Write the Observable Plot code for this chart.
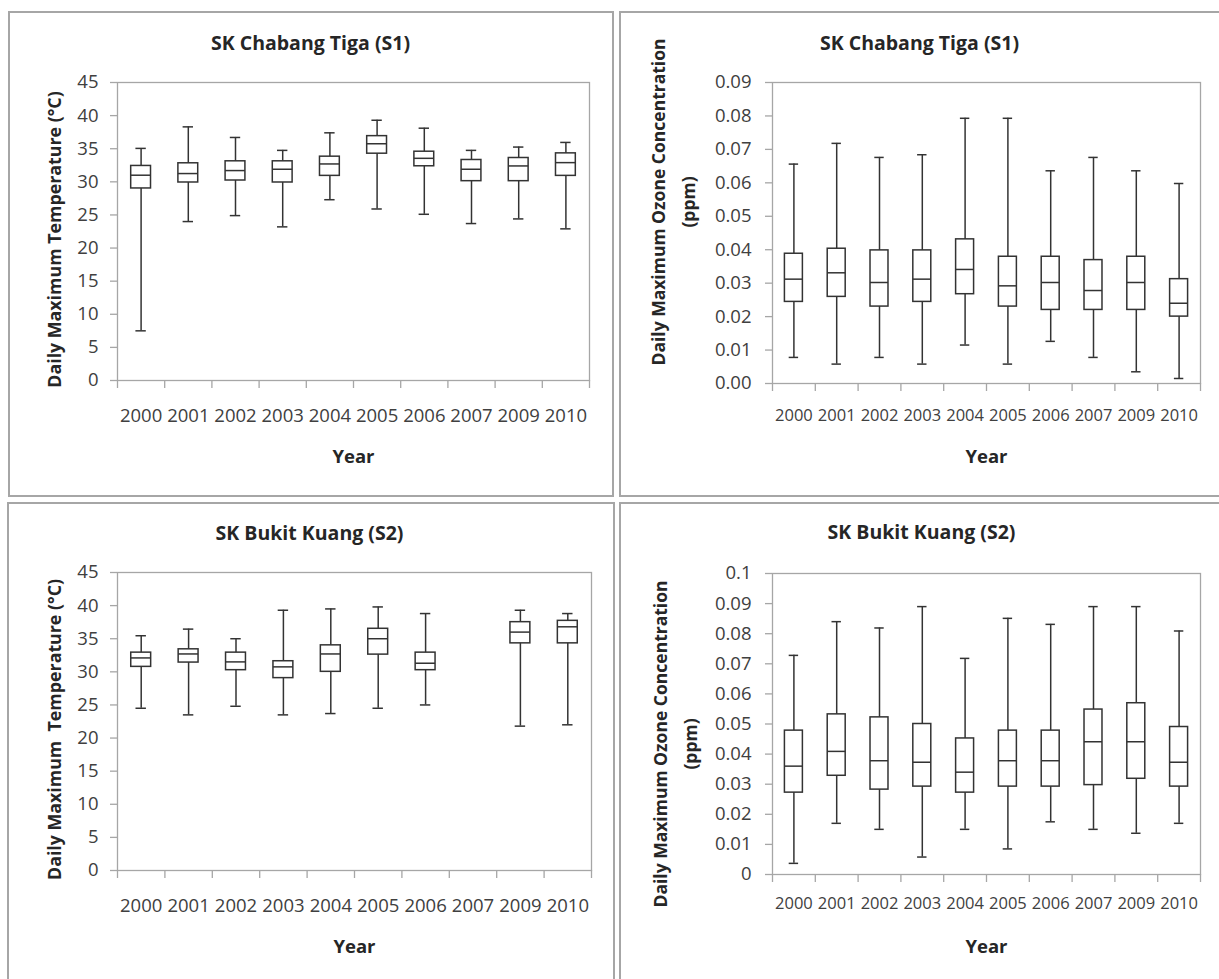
<!DOCTYPE html>
<html>
<head>
<meta charset="utf-8">
<script src="https://cdn.jsdelivr.net/npm/d3@7"></script>
<script src="https://cdn.jsdelivr.net/npm/@observablehq/plot@0.6"></script>
<style>
  html, body { margin: 0; padding: 0; background: #fff; }
  body { width: 1219px; height: 979px; overflow: hidden; position: relative; font-family: "Open Sans", sans-serif; }
  .panel { position: absolute; border: 2px solid #a6a6a6; box-sizing: border-box; }
</style>
</head>
<body>
<script>
// ---------- data ----------
const years = ["2000", "2001", "2002", "2003", "2004", "2005", "2006", "2007", "2009", "2010"];

// SK Chabang Tiga (S1) – daily maximum temperature (°C)
const tempS1Min = [7.5, 24.0, 24.9, 23.2, 27.3, 25.9, 25.1, 23.7, 24.4, 22.9];
const tempS1Q1  = [29.0, 29.9, 30.2, 29.9, 30.9, 34.25, 32.35, 30.1, 30.1, 30.9];
const tempS1Med = [31.0, 31.25, 31.7, 31.9, 32.7, 35.75, 33.55, 31.9, 32.4, 32.9];
const tempS1Q3  = [32.4, 32.8, 33.1, 33.1, 33.8, 36.9, 34.55, 33.3, 33.6, 34.3];
const tempS1Max = [35.05, 38.3, 36.7, 34.75, 37.4, 39.3, 38.1, 34.75, 35.25, 35.95];

// SK Chabang Tiga (S1) – daily maximum ozone (ppm)
const ozoneS1Min = [0.0078, 0.0058, 0.0078, 0.0058, 0.0115, 0.0058, 0.0126, 0.0078, 0.0035, 0.0015];
const ozoneS1Q1  = [0.0244, 0.0259, 0.0230, 0.0244, 0.0267, 0.0230, 0.0220, 0.0220, 0.0220, 0.0200];
const ozoneS1Med = [0.0312, 0.0331, 0.0302, 0.0312, 0.0341, 0.0292, 0.0302, 0.0278, 0.0302, 0.0240];
const ozoneS1Q3  = [0.0388, 0.0403, 0.0398, 0.0398, 0.0431, 0.0379, 0.0379, 0.0369, 0.0379, 0.0312];
const ozoneS1Max = [0.0656, 0.0718, 0.0676, 0.0684, 0.0793, 0.0793, 0.0636, 0.0676, 0.0636, 0.0598];

// SK Bukit Kuang (S2) – daily maximum temperature (°C); no data for 2007
const tempS2Min = [24.5, 23.5, 24.8, 23.5, 23.7, 24.5, 25.0, null, 21.8, 22.0];
const tempS2Q1  = [30.75, 31.4, 30.25, 29.05, 30.0, 32.6, 30.25, null, 34.3, 34.3];
const tempS2Med = [32.1, 32.7, 31.5, 30.75, 32.7, 35.0, 31.3, null, 36.0, 36.8];
const tempS2Q3  = [32.9, 33.4, 32.9, 31.6, 34.0, 36.5, 32.9, null, 37.5, 37.7];
const tempS2Max = [35.45, 36.45, 35.0, 39.3, 39.5, 39.8, 38.8, null, 39.3, 38.8];

// SK Bukit Kuang (S2) – daily maximum ozone (ppm)
const ozoneS2Min = [0.0037, 0.0170, 0.0150, 0.0058, 0.0150, 0.0085, 0.0175, 0.0150, 0.0137, 0.0170];
const ozoneS2Q1  = [0.0272, 0.0328, 0.0282, 0.0292, 0.0272, 0.0292, 0.0292, 0.0297, 0.0318, 0.0292];
const ozoneS2Med = [0.0360, 0.0409, 0.0378, 0.0373, 0.0340, 0.0378, 0.0378, 0.0441, 0.0441, 0.0373];
const ozoneS2Q3  = [0.0478, 0.0532, 0.0522, 0.0500, 0.0452, 0.0478, 0.0478, 0.0548, 0.0569, 0.0490];
const ozoneS2Max = [0.0728, 0.0840, 0.0819, 0.0890, 0.0718, 0.0851, 0.0831, 0.0890, 0.0890, 0.0809];

const tempTicks = [0, 5, 10, 15, 20, 25, 30, 35, 40, 45];
const ozoneTicksS1 = [0, 0.01, 0.02, 0.03, 0.04, 0.05, 0.06, 0.07, 0.08, 0.09];
const ozoneTicksS2 = [0, 0.01, 0.02, 0.03, 0.04, 0.05, 0.06, 0.07, 0.08, 0.09, 0.1];

// ---------- drawing ----------
const INK = "#333333";
const AXIS = "#a6a6a6";
const LABEL = "#404040";
const BORDER = 2;
const FONT = "'Open Sans', Lato, sans-serif";

function panel(cfg) {
  const div = document.createElement("div");
  div.className = "panel";
  Object.assign(div.style, {
    left: cfg.box.left + "px", top: cfg.box.top + "px",
    width: cfg.box.width + "px", height: cfg.box.height + "px"
  });
  document.body.appendChild(div);

  const sx = cfg.box.left + BORDER, sy = cfg.box.top + BORDER;
  const W = cfg.box.width - 2 * BORDER, H = cfg.box.height - 2 * BORDER;
  const f = cfg.frame;

  const n = years.length;
  const rows = years.map((year, i) => ({
    i, year, min: cfg.min[i], q1: cfg.q1[i], med: cfg.med[i], q3: cfg.q3[i], max: cfg.max[i]
  })).filter(d => d.med != null);

  const hb = 0.21, hc = 0.11;
  const c = d => d.i + 0.5;

  const svg = Plot.plot({
    width: W, height: H,
    marginLeft: f.x1 - sx, marginRight: sx + W - f.x2,
    marginTop: f.y1 - sy, marginBottom: sy + H - f.y2,
    style: { fontFamily: FONT, background: "transparent" },
    x: { domain: [0, n], axis: null },
    y: { domain: cfg.yDomain, axis: null },
    marks: [
      Plot.frame({ stroke: AXIS, strokeWidth: 1.3 }),
      Plot.axisY({ ticks: cfg.yTicks, tickFormat: cfg.fmt, tickSize: 7, tickPadding: cfg.yPad,
        stroke: AXIS, strokeWidth: 1.3, fill: LABEL, fontSize: 18.5, label: null }),
      Plot.axisX({ ticks: d3.range(n + 1), tickFormat: () => "", tickSize: 8,
        stroke: AXIS, strokeWidth: 1.3, label: null }),
      Plot.axisX({ ticks: d3.range(n).map(i => i + 0.5), tickFormat: t => years[Math.floor(t)],
        tickSize: 0, tickPadding: cfg.xPad, fill: LABEL, fontSize: cfg.xFont, label: null }),
      Plot.ruleX(rows, { x: c, y1: "min", y2: "max", stroke: INK, strokeWidth: 1.5 }),
      Plot.ruleY(rows, { y: "min", x1: d => c(d) - hc, x2: d => c(d) + hc, stroke: INK, strokeWidth: 1.5 }),
      Plot.ruleY(rows, { y: "max", x1: d => c(d) - hc, x2: d => c(d) + hc, stroke: INK, strokeWidth: 1.5 }),
      Plot.rect(rows, { x1: d => c(d) - hb, x2: d => c(d) + hb, y1: "q1", y2: "q3",
        fill: "white", stroke: INK, strokeWidth: 1.5 }),
      Plot.ruleY(rows, { y: "med", x1: d => c(d) - hb, x2: d => c(d) + hb, stroke: INK, strokeWidth: 1.5 }),
      Plot.text([cfg.title], { text: d => d, frameAnchor: "top", lineAnchor: "middle", textAnchor: "middle",
        dx: cfg.titleDx, dy: cfg.titleDy, fontSize: 19.5, fontWeight: "bold", fill: "#262626" }),
      Plot.text([cfg.yLabel], { text: d => d, frameAnchor: "left", lineAnchor: "middle", textAnchor: "middle",
        rotate: -90, dx: cfg.yLabDx, dy: cfg.yLabDy, lineHeight: 1.7,
        fontSize: cfg.yLabFont, fontWeight: "bold", fill: "#262626" }),
      Plot.text(["Year"], { text: d => d, frameAnchor: "bottom", lineAnchor: "middle", textAnchor: "middle",
        dy: cfg.xLabDy, fontSize: 18.5, fontWeight: "bold", fill: "#262626" })
    ]
  });
  Object.assign(svg.style, { position: "absolute", left: sx + "px", top: sy + "px", maxWidth: "none" });
  document.body.appendChild(svg);
}

const fmt2 = d3.format(".2f");
const fmtG = d => String(+d.toFixed(2));

panel({
  box: { left: 8, top: 11, width: 606, height: 486 },
  frame: { x1: 117, x2: 589, y1: 82, y2: 380 },
  yDomain: [0, 45], yTicks: tempTicks, fmt: d => String(d), yPad: 12, xPad: 28, xFont: 18.5,
  min: tempS1Min, q1: tempS1Q1, med: tempS1Med, q3: tempS1Q3, max: tempS1Max,
  title: "SK Chabang Tiga (S1)", titleDx: -43, titleDy: -39,
  yLabel: "Daily Maximum Temperature (°C)", yLabDx: -66, yLabDy: 8, yLabFont: 17.8,
  xLabDy: 77
});

panel({
  box: { left: 619, top: 11, width: 603, height: 486 },
  frame: { x1: 772, x2: 1200, y1: 82, y2: 383 },
  yDomain: [0, 0.09], yTicks: ozoneTicksS1, fmt: fmt2, yPad: 14, xPad: 26, xFont: 16.5,
  min: ozoneS1Min, q1: ozoneS1Q1, med: ozoneS1Med, q3: ozoneS1Q3, max: ozoneS1Max,
  title: "SK Chabang Tiga (S1)", titleDx: -67, titleDy: -39,
  yLabel: "Daily Maximum Ozone Concentration\n(ppm)", yLabDx: -102, yLabDy: -31, yLabFont: 17.5,
  xLabDy: 74
});

panel({
  box: { left: 7, top: 502, width: 608, height: 480 },
  frame: { x1: 117, x2: 591, y1: 572, y2: 870 },
  yDomain: [0, 45], yTicks: tempTicks, fmt: d => String(d), yPad: 12, xPad: 28, xFont: 18.5,
  min: tempS2Min, q1: tempS2Q1, med: tempS2Med, q3: tempS2Q3, max: tempS2Max,
  title: "SK Bukit Kuang (S2)", titleDx: -45, titleDy: -39,
  yLabel: "Daily Maximum  Temperature (°C)", yLabDx: -66, yLabDy: 8, yLabFont: 17.8,
  xLabDy: 77
});

panel({
  box: { left: 619, top: 502, width: 603, height: 480 },
  frame: { x1: 772, x2: 1200, y1: 573, y2: 874 },
  yDomain: [0, 0.1], yTicks: ozoneTicksS2, fmt: fmtG, yPad: 14, xPad: 23, xFont: 16.5,
  min: ozoneS2Min, q1: ozoneS2Q1, med: ozoneS2Med, q3: ozoneS2Q3, max: ozoneS2Max,
  title: "SK Bukit Kuang (S2)", titleDx: -65, titleDy: -41,
  yLabel: "Daily Maximum Ozone Concentration\n(ppm)", yLabDx: -100, yLabDy: 20, yLabFont: 17.5,
  xLabDy: 73
});
</script>
</body>
</html>
